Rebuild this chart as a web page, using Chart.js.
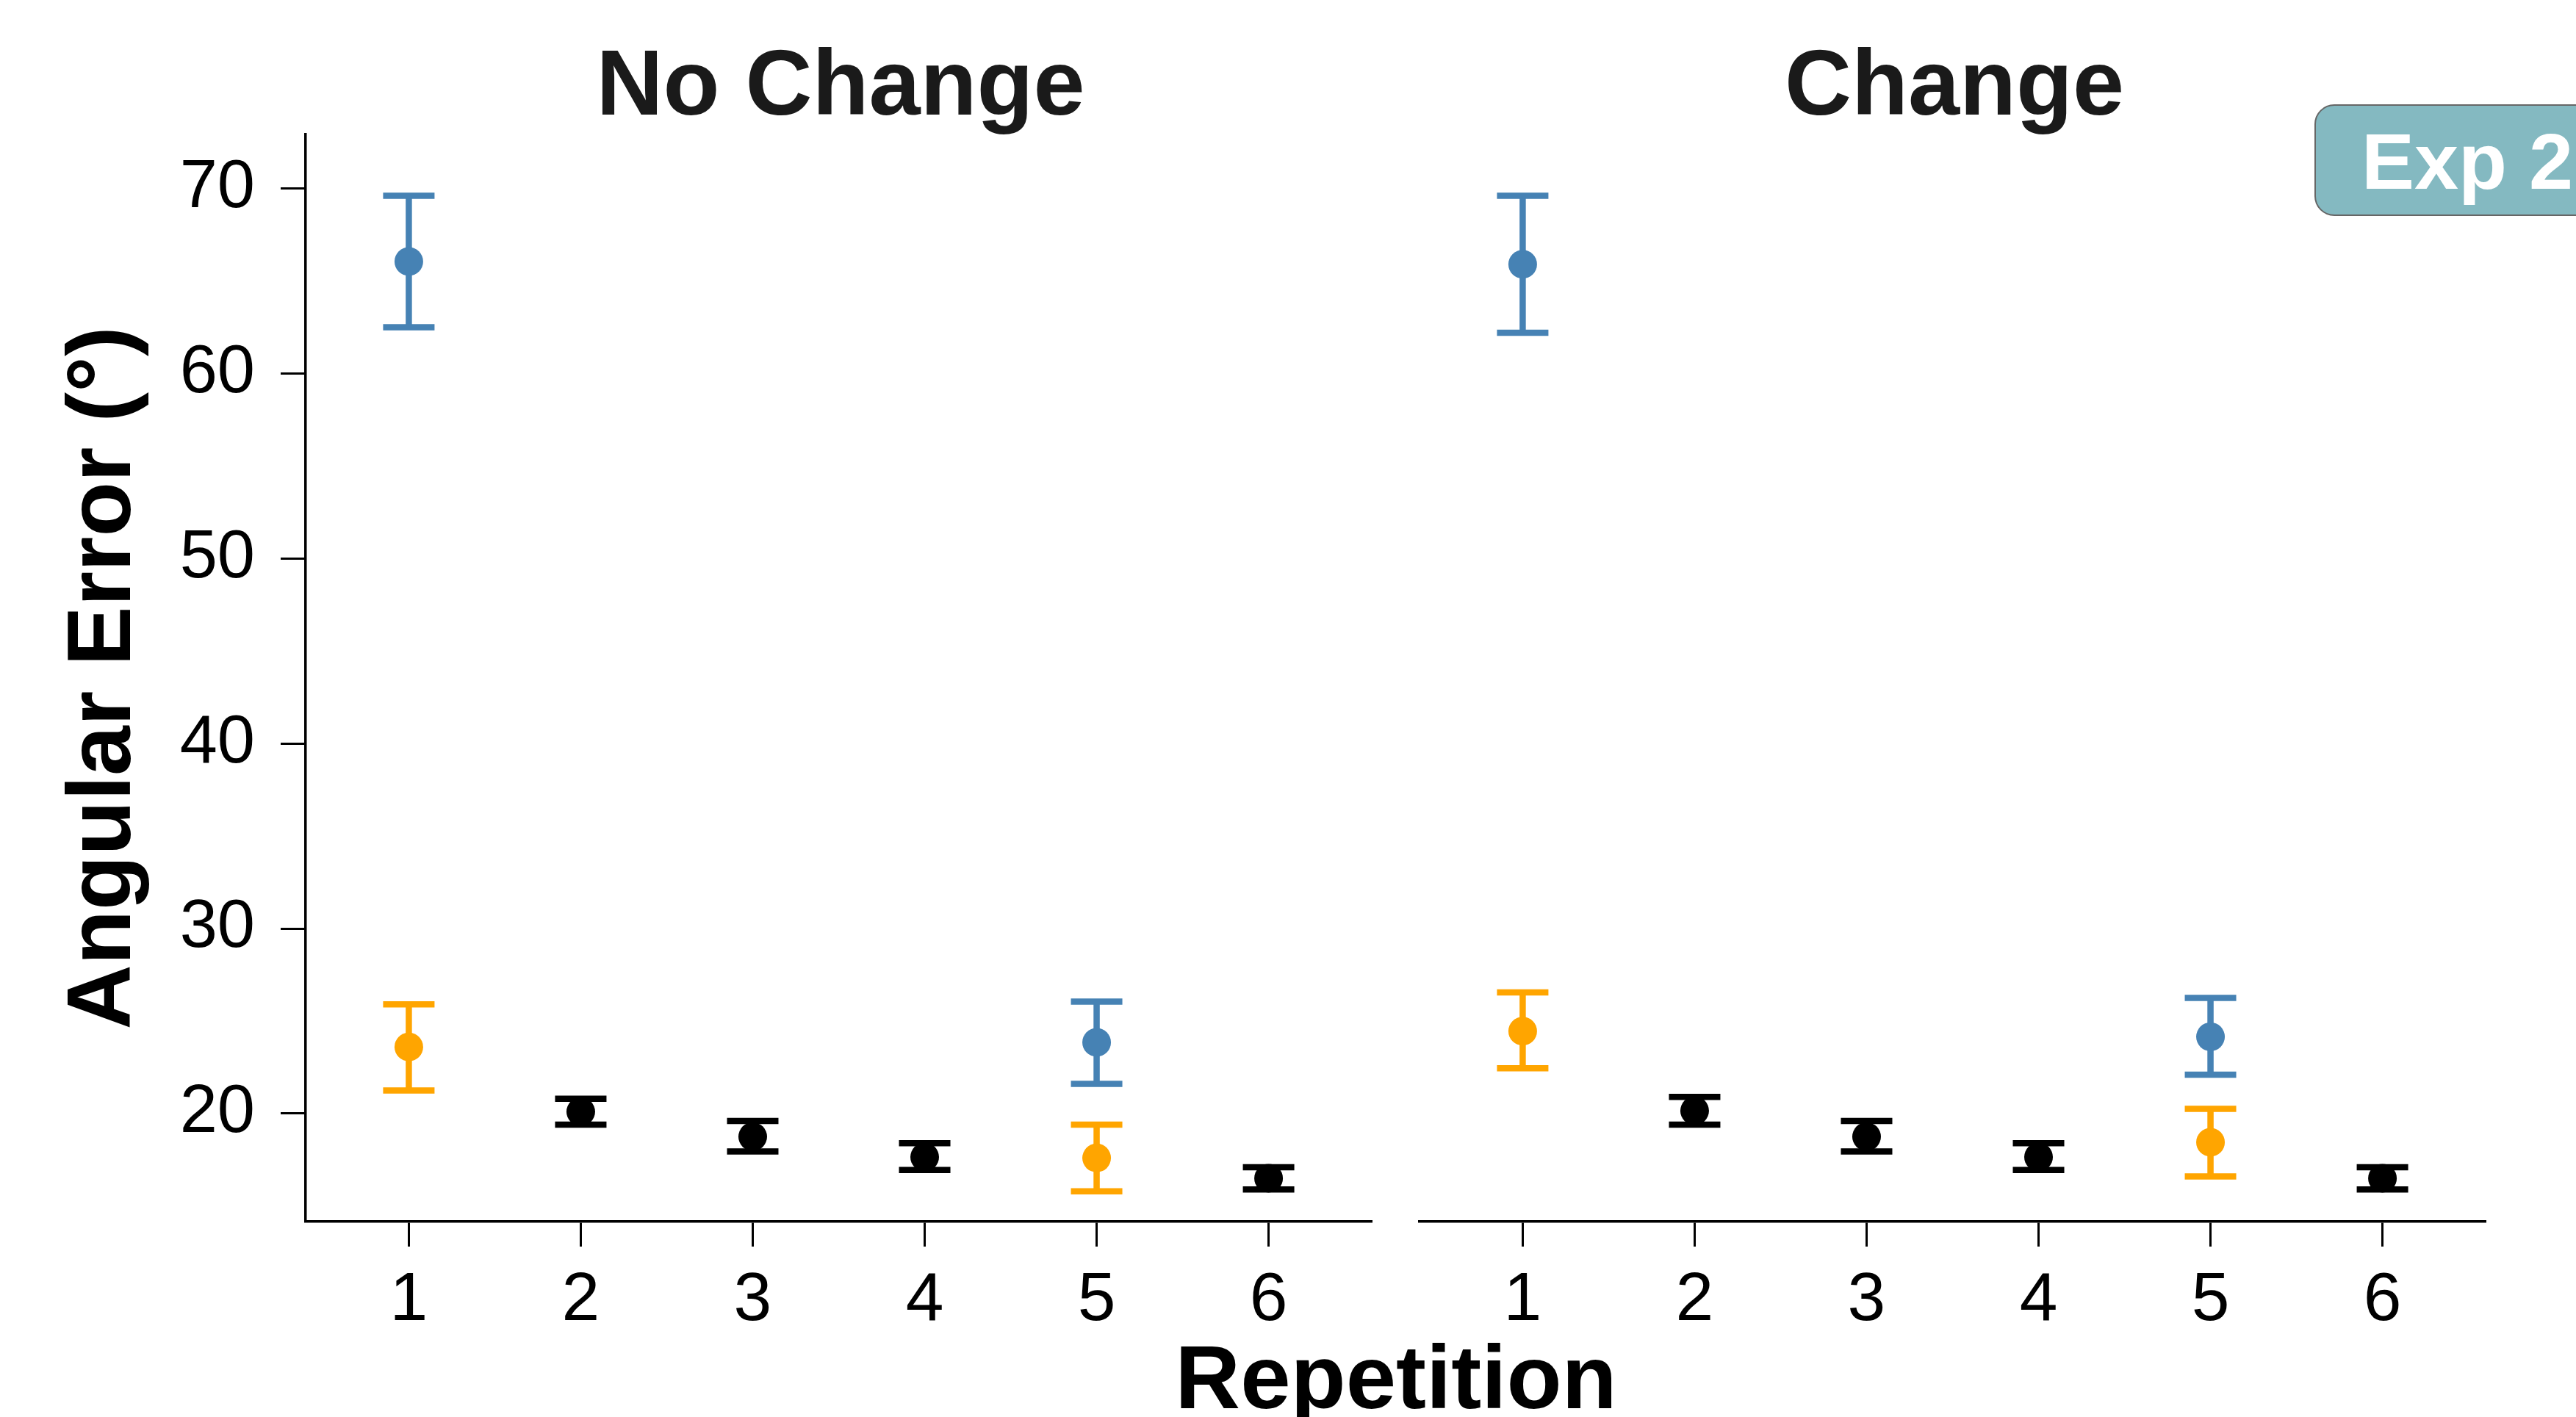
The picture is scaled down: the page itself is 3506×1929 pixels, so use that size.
<!DOCTYPE html>
<html>
<head>
<meta charset="utf-8">
<script src="https://cdn.jsdelivr.net/npm/chart.js@4.4.1/dist/chart.umd.min.js"></script>
<style>
  html, body { margin: 0; padding: 0; background: #fff; }
  body { width: 3506px; height: 1929px; position: relative; overflow: hidden; font-family: "Liberation Sans", Arial, sans-serif; }
  .panel { position: absolute; top: 0; height: 1929px; }
  .label { position: absolute; white-space: nowrap; font-weight: bold; line-height: 1; }
  .title { font-size: 126px; color: #1a1a1a; width: 2000px; text-align: center; top: 50px; }
  #xlabel { font-size: 123px; color: #000; width: 2000px; text-align: center; left: 900px; top: 1813px; }
  #badge { position: absolute; left: 3150px; top: 142px; width: 420px; height: 152px; box-sizing: border-box;
           background: #84b9c1; border: 2px solid #666; border-radius: 27px; }
  #badge-text { font-size: 108px; color: #fff; left: 3214px; top: 166px; }
</style>
</head>
<body>
<div class="panel" style="left:0;width:1900px;"><canvas id="left-chart"></canvas></div>
<div class="panel" style="left:1900px;width:1606px;"><canvas id="right-chart"></canvas></div>
<div class="label title" style="left:144px;">No Change</div>
<div class="label title" style="left:1660px;">Change</div>
<div class="label" id="xlabel">Repetition</div>
<div id="badge"></div>
<div class="label" id="badge-text">Exp 2</div>

<script>
const REPETITIONS = [1, 2, 3, 4, 5, 6];
const Y_TICKS = [20, 30, 40, 50, 60, 70];
const Y_MIN = 14.16;
const Y_MAX = 72.92;
const X_MIN = 0.4;
const X_MAX = 6.6;

const BLUE = "#4682b4";
const ORANGE = "#ffa500";
const BLACK = "#000000";

// "No Change" panel
const ncBlueReps = [1, 5];
const ncBlueMean = [66.05, 23.85];
const ncBlueLow = [62.5, 21.6];
const ncBlueHigh = [69.6, 26.05];

const ncOrangeReps = [1, 5];
const ncOrangeMean = [23.6, 17.6];
const ncOrangeLow = [21.25, 15.8];
const ncOrangeHigh = [25.9, 19.4];

const ncBlackReps = [2, 3, 4, 6];
const ncBlackMean = [20.1, 18.75, 17.65, 16.5];
const ncBlackLow = [19.4, 17.95, 16.95, 15.9];
const ncBlackHigh = [20.8, 19.6, 18.4, 17.1];

// "Change" panel
const chBlueReps = [1, 5];
const chBlueMean = [65.9, 24.15];
const chBlueLow = [62.2, 22.1];
const chBlueHigh = [69.6, 26.25];

const chOrangeReps = [1, 5];
const chOrangeMean = [24.45, 18.45];
const chOrangeLow = [22.45, 16.6];
const chOrangeHigh = [26.55, 20.25];

const chBlackReps = [2, 3, 4, 6];
const chBlackMean = [20.15, 18.75, 17.65, 16.5];
const chBlackLow = [19.4, 17.95, 16.95, 15.9];
const chBlackHigh = [20.9, 19.6, 18.4, 17.1];

const CAP_HALF = 35;
const BAR_WIDTH = 8.5;

// draws the vertical whisker + caps for every point, under the markers
const errorBars = {
  id: "errorBars",
  beforeDatasetsDraw(chart) {
    const { ctx } = chart;
    const xs = chart.scales.x;
    const ys = chart.scales.y;
    chart.data.datasets.forEach((ds) => {
      ctx.save();
      ctx.strokeStyle = ds.backgroundColor;
      ctx.lineWidth = BAR_WIDTH;
      ctx.lineCap = "butt";
      ds.data.forEach((pt, i) => {
        const px = xs.getPixelForValue(pt.x);
        const top = ys.getPixelForValue(ds.high[i]);
        const bottom = ys.getPixelForValue(ds.low[i]);
        ctx.beginPath();
        ctx.moveTo(px, top);
        ctx.lineTo(px, bottom);
        ctx.moveTo(px - CAP_HALF, top);
        ctx.lineTo(px + CAP_HALF, top);
        ctx.moveTo(px - CAP_HALF, bottom);
        ctx.lineTo(px + CAP_HALF, bottom);
        ctx.stroke();
      });
      ctx.restore();
    });
  },
};

function series(reps, mean, low, high, color) {
  return {
    data: reps.map((r, i) => ({ x: r, y: mean[i] })),
    low,
    high,
    backgroundColor: color,
    borderColor: color,
    pointRadius: 19.5,
    pointHoverRadius: 19.5,
    pointBorderWidth: 0,
    showLine: false,
  };
}

function makeChart(canvasId, datasets, showY, padding) {
  return new Chart(document.getElementById(canvasId), {
    type: "scatter",
    data: { datasets },
    plugins: [errorBars],
    options: {
      responsive: true,
      maintainAspectRatio: false,
      animation: false,
      layout: { padding },
      plugins: { legend: { display: false }, tooltip: { enabled: false } },
      scales: {
        x: {
          type: "linear",
          min: X_MIN,
          max: X_MAX,
          afterBuildTicks: (scale) => { scale.ticks = REPETITIONS.map((v) => ({ value: v })); },
          afterFit: (scale) => { scale.height = 266; },
          border: { display: true, color: BLACK, width: 3.5 },
          grid: { drawOnChartArea: false, drawTicks: true, tickLength: 34, tickWidth: 3, tickColor: BLACK },
          ticks: { color: BLACK, padding: 28, maxRotation: 0, font: { family: "Liberation Sans", size: 93, lineHeight: 1 } },
        },
        y: {
          type: "linear",
          display: showY,
          min: Y_MIN,
          max: Y_MAX,
          afterBuildTicks: (scale) => { scale.ticks = Y_TICKS.map((v) => ({ value: v })); },
          afterFit: (scale) => { scale.width = showY ? 416 : 0; },
          border: { display: true, color: BLACK, width: 3.5 },
          grid: { drawOnChartArea: false, drawTicks: true, tickLength: 34, tickWidth: 3, tickColor: BLACK },
          ticks: { color: BLACK, padding: 35, font: { family: "Liberation Sans", size: 92, lineHeight: 1 } },
          title: {
            display: true,
            text: "Angular Error (°)",
            color: BLACK,
            padding: { top: 70, bottom: 0 },
            font: { family: "Liberation Sans", size: 122, weight: "bold", lineHeight: 1.2 },
          },
        },
      },
    },
  });
}

makeChart(
  "left-chart",
  [
    series(ncBlackReps, ncBlackMean, ncBlackLow, ncBlackHigh, BLACK),
    series(ncOrangeReps, ncOrangeMean, ncOrangeLow, ncOrangeHigh, ORANGE),
    series(ncBlueReps, ncBlueMean, ncBlueLow, ncBlueHigh, BLUE),
  ],
  true,
  { left: 0, top: 183, right: 33, bottom: 0 }
);

makeChart(
  "right-chart",
  [
    series(chBlackReps, chBlackMean, chBlackLow, chBlackHigh, BLACK),
    series(chOrangeReps, chOrangeMean, chOrangeLow, chOrangeHigh, ORANGE),
    series(chBlueReps, chBlueMean, chBlueLow, chBlueHigh, BLUE),
  ],
  false,
  { left: 32, top: 183, right: 123, bottom: 0 }
);
</script>
</body>
</html>
